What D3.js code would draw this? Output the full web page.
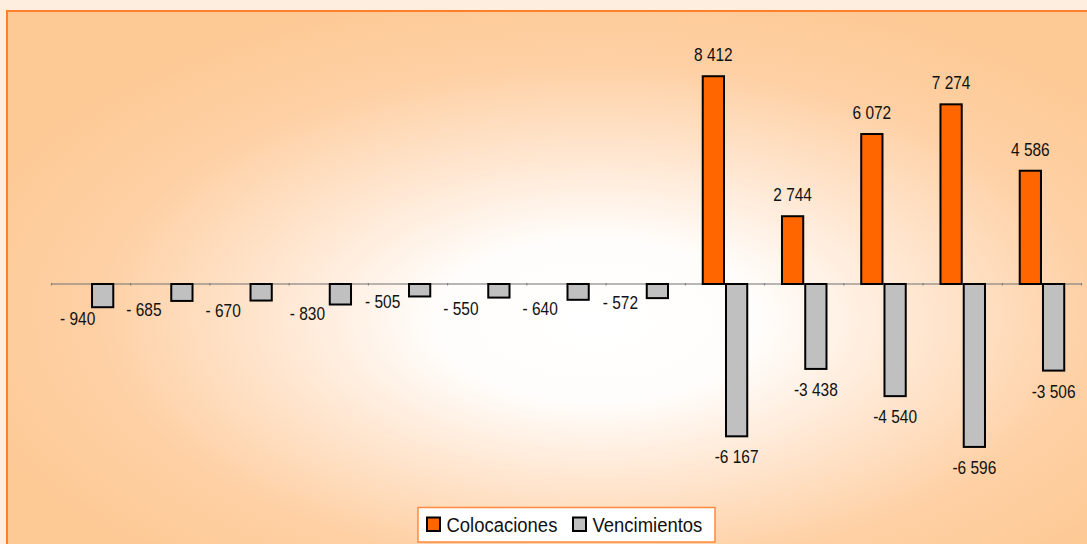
<!DOCTYPE html>
<html>
<head>
<meta charset="utf-8">
<script src="https://cdn.jsdelivr.net/npm/d3@7"></script>
<style>
  html, body { margin: 0; padding: 0; background: #feeee0; overflow: hidden; }
  svg { display: block; }
  text { font-family: "Liberation Sans", Arial, sans-serif; fill: #111; }
</style>
</head>
<body>
<svg id="chart" width="1087" height="544"></svg>
<script>
// ---- data ----
const categories = ["P1","P2","P3","P4","P5","P6","P7","P8","P9","P10","P11","P12","P13"];
const seriesNames = ["Colocaciones", "Vencimientos"];
const colocaciones = [0, 0, 0, 0, 0, 0, 0, 0, 8412, 2744, 6072, 7274, 4586];
const vencimientos = [-940, -685, -670, -830, -505, -550, -640, -572, -6167, -3438, -4540, -6596, -3506];
// label nudges (style only) for the small negative labels
const smallLabelDx = [-25, -38, -38, -33, -37, -38, -38, -37, 0, 0, 0, 0, 0];
const smallLabelDy = [18, 15, 16, 15, 12, 17, 15, 11, 0, 0, 0, 0, 0];

const colors = { Colocaciones: "#ff6600", Vencimientos: "#c0c0c0" };

const svg = d3.select("#chart");
const W = 1087, H = 544;

// background
const defs = svg.append("defs");
const grad = defs.append("radialGradient").attr("id", "bg")
  .attr("cx", 0.54).attr("cy", 0.55).attr("r", 0.62).attr("fx", 0.54).attr("fy", 0.57);
grad.append("stop").attr("offset", 0).attr("stop-color", "#ffffff");
grad.append("stop").attr("offset", 0.24).attr("stop-color", "#fffdfb");
grad.append("stop").attr("offset", 0.46).attr("stop-color", "#ffe8d4");
grad.append("stop").attr("offset", 0.74).attr("stop-color", "#fed0a4");
grad.append("stop").attr("offset", 1).attr("stop-color", "#fdc994");

svg.append("rect").attr("x", 0).attr("y", 0).attr("width", W).attr("height", H).attr("fill", "#feeee0");
svg.append("rect").attr("x", 7).attr("y", 11).attr("width", 1092).attr("height", 548)
  .attr("fill", "url(#bg)").attr("stroke", "#ff7f2a").attr("stroke-width", 2);

// scales
const x0 = d3.scaleBand().domain(categories).range([51.4, 1081.6]).padding(0);
const x1 = d3.scaleBand().domain(seriesNames).range([0, x0.bandwidth()]).paddingInner(0).paddingOuter(0.704);
const y = d3.scaleLinear().domain([-10000, 10000]).range([531, 37]);
const y0 = y(0);

// zero axis line with boundary ticks
svg.append("line").attr("x1", x0.range()[0]).attr("x2", x0.range()[1])
  .attr("y1", y0).attr("y2", y0).attr("stroke", "#707070").attr("stroke-width", 1);
const bounds = categories.map(c => x0(c)).concat([x0.range()[1]]);
svg.append("g").selectAll("line").data(bounds).join("line")
  .attr("x1", d => d).attr("x2", d => d).attr("y1", y0 - 1).attr("y2", y0 + 1.5)
  .attr("stroke", "#777").attr("stroke-width", 1);

// bars
const rows = categories.map((c, i) => ({ c, i, Colocaciones: colocaciones[i], Vencimientos: vencimientos[i] }));
const groups = svg.append("g").selectAll("g").data(rows).join("g")
  .attr("transform", d => `translate(${x0(d.c)},0)`);

groups.selectAll("rect").data(d => seriesNames.map(s => ({ s, v: d[s] })).filter(e => e.v !== 0))
  .join("rect")
  .attr("x", e => x1(e.s) + 1)
  .attr("width", x1.bandwidth() - 2)
  .attr("y", e => Math.min(y(e.v), y0))
  .attr("height", e => Math.abs(y(e.v) - y0))
  .attr("fill", e => colors[e.s])
  .attr("stroke", "#000").attr("stroke-width", 2);

// labels
const fmtLocale = d3.formatLocale({ decimal: ",", thousands: " ", grouping: [3], currency: ["", ""] });
const fmt = fmtLocale.format(",d");
function labelText(v) {
  if (v < 0 && Math.abs(v) < 1000) return "- " + fmt(Math.abs(v));
  if (v < 0) return "-" + fmt(Math.abs(v));
  return fmt(v);
}
const SX = 0.86;
function addLabel(xp, yp, txt, size, anchor) {
  const g = svg.append("g").attr("transform", `translate(${xp},${yp}) scale(${SX},1)`);
  g.append("text").attr("x", 0).attr("y", 0).attr("text-anchor", anchor || "middle")
    .style("font-size", size + "px").text(txt);
}
rows.forEach(d => {
  const vc = d.Colocaciones;
  if (vc !== 0) {
    const cx = x0(d.c) + x1("Colocaciones") + x1.bandwidth() / 2;
    addLabel(cx, y(vc) - 15, labelText(vc), 18);
  }
  const vv = d.Vencimientos;
  if (vv !== 0) {
    const cx = x0(d.c) + x1("Vencimientos") + x1.bandwidth() / 2;
    if (Math.abs(vv) < 1000) {
      addLabel(cx + smallLabelDx[d.i], y(vv) + smallLabelDy[d.i], labelText(vv), 18);
    } else {
      addLabel(cx, y(vv) + 27, labelText(vv), 18);
    }
  }
});

// legend
const lg = svg.append("g");
lg.append("rect").attr("x", 418).attr("y", 507.5).attr("width", 297).attr("height", 34.5)
  .attr("fill", "#ffffff").attr("stroke", "#ff8a3d").attr("stroke-width", 1.5);
const legendItems = [
  { s: "Colocaciones", sx: 427, tx: 446.5 },
  { s: "Vencimientos", sx: 573, tx: 592.5 }
];
legendItems.forEach(it => {
  lg.append("rect").attr("x", it.sx).attr("y", 517.5).attr("width", 13).attr("height", 13.5)
    .attr("fill", colors[it.s]).attr("stroke", "#000").attr("stroke-width", 2);
  const g = lg.append("g").attr("transform", `translate(${it.tx},532) scale(0.88,1)`);
  g.append("text").attr("x", 0).attr("y", 0).style("font-size", "21px").text(it.s);
});
</script>
</body>
</html>
